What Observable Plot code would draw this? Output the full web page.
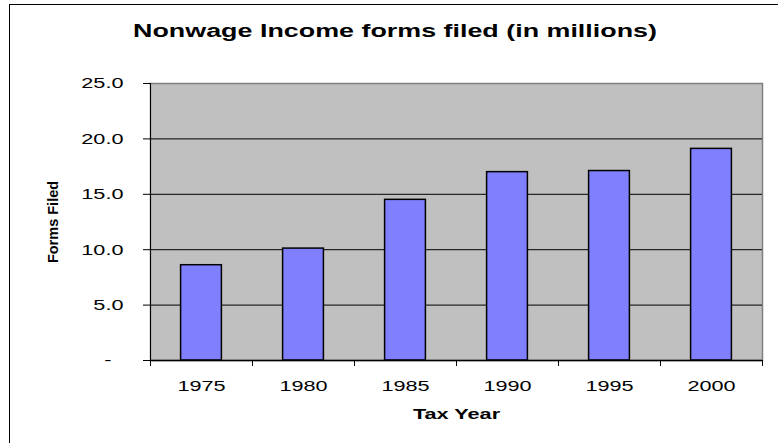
<!DOCTYPE html>
<html><head><meta charset="utf-8">
<script src="https://cdn.jsdelivr.net/npm/d3@7"></script>
<script src="https://cdn.jsdelivr.net/npm/@observablehq/plot@0.6"></script>
<style>
body{margin:0;background:#fff;}
#wrap{position:relative;width:778px;height:443px;overflow:hidden;background:#fff;}
#chart{position:absolute;left:0;top:0;}
#border{position:absolute;left:9px;top:4px;right:-10px;bottom:-10px;border-left:1.5px solid #000;border-top:1.5px solid #000;pointer-events:none;}
</style></head><body>
<div id="wrap"><div id="chart"></div><div id="border"></div></div>
<script>
const years = ["1975","1980","1985","1990","1995","2000"];
const forms = [8.6, 10.1, 14.5, 17.0, 17.1, 19.1];
const yTicks = [0, 5, 10, 15, 20, 25];
const title = "Nonwage Income forms filed (in millions)";
const xTitle = "Tax Year";
const yTitle = "Forms Filed";

const data = years.map((year, i) => ({year, i, value: forms[i]}));
const slots = years.map((_, i) => i);
const bounds = [...slots.map(i => i - 0.5), years.length - 0.5];
const font = "Arial, 'Liberation Sans', sans-serif";

const chart = Plot.plot({
  width: 778, height: 443,
  marginLeft: 150, marginRight: 16, marginTop: 83, marginBottom: 83,
  style: {fontFamily: font, fontSize: "15.5px", background: "transparent", color: "#000", overflow: "visible"},
  x: {type: "linear", domain: [-0.5, years.length - 0.5]},
  y: {domain: [0, 25]},
  marks: [
    Plot.frame({fill: "#C0C0C0", stroke: "#808080", strokeWidth: 1.5}),
    Plot.gridY(yTicks.filter(d => d > 0 && d < 25), {stroke: "#000", strokeOpacity: 1, strokeWidth: 1}),
    Plot.rectY(data, {x1: d => d.i - 0.2, x2: d => d.i + 0.2, y: "value", fill: "#8080FF", stroke: "#000", strokeWidth: 1.5}),
    Plot.ruleY([0], {stroke: "#000", strokeWidth: 1.5}),
    Plot.ruleX([-0.5], {stroke: "#000", strokeWidth: 1}),
    Plot.axisY({ticks: yTicks, tickSize: 7, tickPadding: 20, tickFormat: d => d === 0 ? "-\u00a0\u00a0" : d.toFixed(1), label: null}),
    Plot.axisX({ticks: bounds, tickSize: 6, tickFormat: () => "", label: null}),
    Plot.axisX({ticks: slots, tickSize: 0, tickPadding: 19, tickFormat: i => years[i], label: null}),
    Plot.text([title], {text: d => d, frameAnchor: "top", lineAnchor: "middle", dx: -61.5, dy: -53, fontSize: 19.2, fontWeight: "bold"}),
    Plot.text([xTitle], {text: d => d, frameAnchor: "bottom", lineAnchor: "middle", dy: 54, fontSize: 15.5, fontWeight: "bold"}),
    Plot.text([yTitle], {text: d => d, frameAnchor: "left", textAnchor: "middle", lineAnchor: "middle", dx: -97, rotate: -90, fontSize: 14.5, fontWeight: "bold"})
  ]
});

// the reference rendering is horizontally stretched: widen the upright glyphs to match
d3.select(chart).selectAll("text").each(function() {
  const prev = this.getAttribute("transform") || "";
  if (prev.includes("rotate")) return;
  this.setAttribute("transform", `${prev} scale(1.4,1)`);
});

document.getElementById("chart").appendChild(chart);
</script>
</body></html>
